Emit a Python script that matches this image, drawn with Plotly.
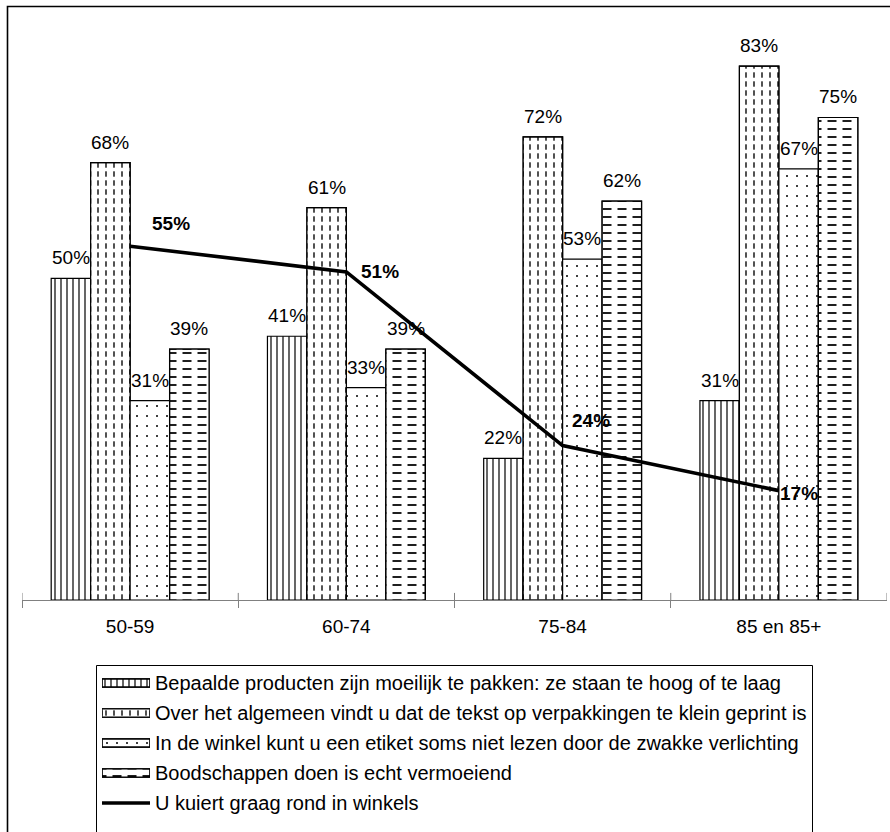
import plotly.graph_objects as go

# ---- data -------------------------------------------------------------
categories = ["50-59", "60-74", "75-84", "85 en 85+"]

series_names = [
    "Bepaalde producten zijn moeilijk te pakken: ze staan te hoog of te laag",
    "Over het algemeen vindt u dat de tekst op verpakkingen te klein geprint is",
    "In de winkel kunt u een etiket soms niet lezen door de zwakke verlichting",
    "Boodschappen doen is echt vermoeiend",
]
moeilijk_pakken = [50, 41, 22, 31]
tekst_te_klein = [68, 61, 72, 83]
etiket_verlichting = [31, 33, 53, 67]
vermoeiend = [39, 39, 62, 75]

line_name = "U kuiert graag rond in winkels"
kuiert_graag = [55, 51, 24, 17]

bar_series = [moeilijk_pakken, tekst_te_klein, etiket_verlichting, vermoeiend]

# ---- styling ----------------------------------------------------------
FONT = "Liberation Sans, Arial, Helvetica, sans-serif"
FS = 19
FS_LEG = 20
BARGAP = 0.27
N_BARS = len(bar_series)
BAR_W = (1 - BARGAP) / N_BARS

W, H = 890, 832


def px_x(p):
    return p / W


def px_y(p):
    return 1 - p / H


# base hatch for each series, plus an optional white overlay that
# breaks the hatch lines into dashes
base_patterns = [
    dict(shape="|", size=6, solidity=0.2),
    dict(shape="|", size=8, solidity=0.17),
    dict(shape=".", size=10, solidity=0.032),
    dict(shape="-", size=8, solidity=0.22),
]
dash_overlays = [
    dict(shape="", size=8, solidity=0.3),
    dict(shape="-", size=9, solidity=0.4),
    dict(shape="", size=8, solidity=0.3),
    dict(shape="|", size=15, solidity=0.4),
]
OUTLINE = dict(color="black", width=1.2)

fig = go.Figure()

for k, (name, vals) in enumerate(zip(series_names, bar_series)):
    pat = base_patterns[k]
    fig.add_trace(go.Bar(
        x=categories, y=vals, name=name, offsetgroup=str(k),
        marker=dict(
            color="white", line=OUTLINE,
            pattern=dict(shape=pat["shape"], size=pat["size"],
                         solidity=pat["solidity"], fgcolor="black",
                         bgcolor="white", fillmode="replace", fgopacity=1),
        ),
        hoverinfo="skip", showlegend=False,
    ))
    ov = dash_overlays[k]
    if ov["shape"]:
        fig.add_trace(go.Bar(
            x=categories, y=vals, name=name, offsetgroup=str(k),
            marker=dict(
                color="rgba(0,0,0,0)", line=OUTLINE,
                pattern=dict(shape=ov["shape"], size=ov["size"],
                             solidity=ov["solidity"], fgcolor="white",
                             bgcolor="rgba(0,0,0,0)", fillmode="overlay",
                             fgopacity=1),
            ),
            hoverinfo="skip", showlegend=False,
        ))

fig.add_trace(go.Scatter(
    x=categories, y=kuiert_graag, name=line_name,
    mode="lines", line=dict(color="black", width=3.6),
    hoverinfo="skip", showlegend=False,
))

# ---- legend, drawn on its own small axes ----------------------------
leg_rows = list(range(len(series_names)))
fig.add_trace(go.Bar(
    x=[1] * len(leg_rows), y=leg_rows, base=0, orientation="h",
    width=0.27, offsetgroup="leg", xaxis="x2", yaxis="y2",
    marker=dict(
        color="white", line=OUTLINE,
        pattern=dict(shape=[p["shape"] for p in base_patterns],
                     size=[p["size"] for p in base_patterns],
                     solidity=[p["solidity"] for p in base_patterns],
                     fgcolor="black", bgcolor="white", fillmode="replace",
                     fgopacity=1),
    ),
    hoverinfo="skip", showlegend=False,
))
fig.add_trace(go.Bar(
    x=[1] * len(leg_rows), y=leg_rows, base=0, orientation="h",
    width=0.27, offsetgroup="leg", xaxis="x2", yaxis="y2",
    marker=dict(
        color="rgba(0,0,0,0)", line=OUTLINE,
        pattern=dict(shape=[p["shape"] for p in dash_overlays],
                     size=[p["size"] for p in dash_overlays],
                     solidity=[p["solidity"] for p in dash_overlays],
                     fgcolor="white", bgcolor="rgba(0,0,0,0)",
                     fillmode="overlay", fgopacity=1),
    ),
    hoverinfo="skip", showlegend=False,
))
line_row = len(series_names)
fig.add_trace(go.Scatter(
    x=[0, 1], y=[line_row, line_row], mode="lines",
    line=dict(color="black", width=3.6), xaxis="x2", yaxis="y2",
    hoverinfo="skip", showlegend=False,
))

annotations = []
# value labels above each bar
for k, vals in enumerate(bar_series):
    for i, v in enumerate(vals):
        annotations.append(dict(
            x=i + (k - (N_BARS - 1) / 2) * BAR_W, y=v, xref="x", yref="y",
            text=f"{v}%", showarrow=False, yanchor="bottom",
            yshift=8, font=dict(family=FONT, size=FS, color="black"),
        ))

# bold labels next to the line points
line_label_shift = [(41, 23), (34, 0), (28, 25), (20, -3)]
for i, v in enumerate(kuiert_graag):
    dx, dy = line_label_shift[i]
    annotations.append(dict(
        x=i, y=v, xref="x", yref="y", text=f"<b>{v}%</b>",
        showarrow=False, xanchor="center", yanchor="middle",
        xshift=dx, yshift=dy,
        font=dict(family=FONT, size=FS, color="black"),
    ))

# legend texts
for r, name in enumerate(series_names + [line_name]):
    annotations.append(dict(
        x=1, y=r, xref="x2", yref="y2", text=name, showarrow=False,
        xanchor="left", yanchor="middle", xshift=3,
        font=dict(family=FONT, size=FS_LEG, color="black"),
    ))

shapes = []
# tick marks crossing the category axis (upper half)
for b in range(len(categories) + 1):
    shapes.append(dict(type="line", xref="x", yref="y",
                       x0=b - 0.5, x1=b - 0.5, y0=0, y1=1.1,
                       line=dict(color="#808080", width=1)))

# legend frame
shapes.append(dict(type="rect", xref="paper", yref="paper",
                   x0=px_x(96.5), x1=px_x(812.5), y0=px_y(845), y1=px_y(665.5),
                   line=dict(color="black", width=1), layer="above"))
# outer chart border
shapes.append(dict(type="rect", xref="paper", yref="paper",
                   x0=px_x(7.5), x1=px_x(900), y0=px_y(850), y1=px_y(6.5),
                   line=dict(color="black", width=1.6), layer="above"))

fig.update_layout(
    width=W, height=H,
    margin=dict(l=0, r=0, t=0, b=0, autoexpand=False),
    paper_bgcolor="white", plot_bgcolor="white",
    barmode="group", bargap=BARGAP, bargroupgap=0,
    font=dict(family=FONT, size=FS, color="black"),
    xaxis=dict(
        domain=[px_x(22), px_x(887)], anchor="y",
        type="category", range=[-0.5, len(categories) - 0.5],
        showline=True, linecolor="#808080", linewidth=1,
        ticks="outside", tickson="boundaries", ticklen=7,
        tickcolor="#808080", tickwidth=1, ticklabelstandoff=9,
        showgrid=False, zeroline=False,
        tickfont=dict(family=FONT, size=FS, color="black"),
    ),
    yaxis=dict(domain=[px_y(600), px_y(21)], anchor="x",
               range=[0, 90], visible=False, showgrid=False),
    xaxis2=dict(domain=[px_x(102), px_x(150)], anchor="y2",
                range=[0, 1], visible=False, showgrid=False),
    yaxis2=dict(domain=[px_y(818), px_y(668)], anchor="x2",
                range=[line_row + 0.5, -0.5], visible=False, showgrid=False),
    annotations=annotations,
    shapes=shapes,
    showlegend=False,
)

fig.write_html("out.html")
